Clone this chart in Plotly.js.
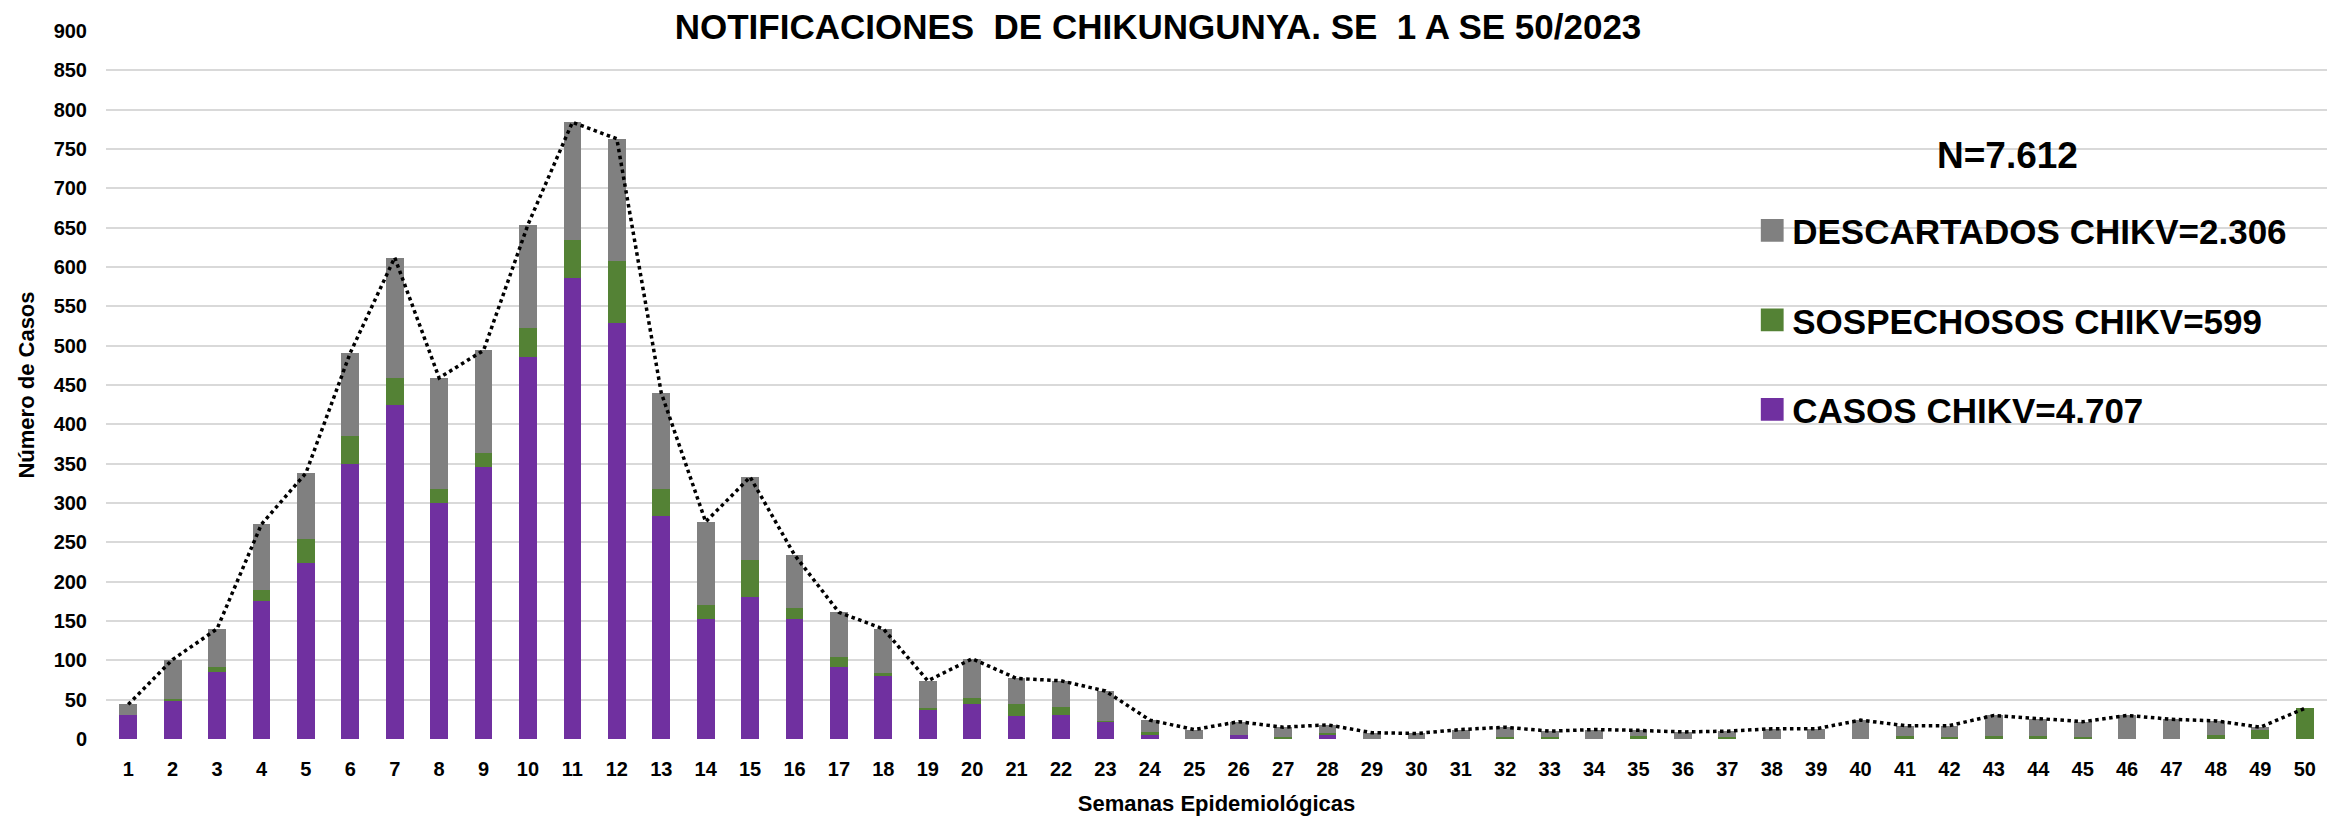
<!DOCTYPE html>
<html>
<head>
<meta charset="utf-8">
<script src="https://cdn.plot.ly/plotly-3.0.1.min.js"></script>
<style>
  html, body { margin: 0; padding: 0; background: #ffffff; }
  #chart { width: 2336px; height: 823px; }
</style>
</head>
<body>
<div id="chart"></div>
<script>
// Semanas epidemiológicas (tick labels)
const semanas = ["1","2","3","4","5","6","7","8","9","10","11","12","13","14","15","16","17","18","19","20","21","22","23","24","25","26","27","28","29","30","31","32","33","34","35","36","37","38","39","40","41","42","43","44","45","46","47","48","49","50"];

// Casos CHIKV (morado)
const casos = [31,48,85,175,224,350,424,300,346,485,586,529,283,153,180,153,92,80,37,44,29,30,21,5,0,5,0,5,0,0,0,0,0,0,0,0,0,0,0,0,0,0,0,0,0,0,0,0,0,0];

// Sospechosos CHIKV (verde)
const sospechosos = [0,3,7,15,30,35,35,18,18,37,48,78,35,17,47,14,12,4,2,8,15,11,2,4,0,0,2,3,0,0,0,3,2,0,4,0,2,0,0,0,4,2,4,4,2,0,0,5,12,39];

// Descartados CHIKV (gris)
const descartados = [13,50,48,83,84,106,153,141,130,132,150,156,122,106,106,67,57,56,35,50,33,33,38,15,12,17,13,10,8,7,12,12,8,12,7,9,8,13,13,24,13,15,26,22,20,30,25,18,3,0];

// Legend / summary texts
const nombreCasos = "CASOS CHIKV=4.707";
const nombreSospechosos = "SOSPECHOSOS CHIKV=599";
const nombreDescartados = "DESCARTADOS CHIKV=2.306";
const textoN = "N=7.612";
const titulo = "NOTIFICACIONES\u00A0 DE CHIKUNGUNYA. SE\u00A0 1 A SE 50/2023";

const totales = semanas.map((_, i) => casos[i] + sospechosos[i] + descartados[i]);

const FONT = '"Liberation Sans", Arial, sans-serif';

const traces = [
  { type: 'bar', x: semanas, y: casos, name: nombreCasos, legendgroup: 'c', legendrank: 3,
    marker: { color: '#7030A0' } },
  { type: 'bar', x: semanas, y: sospechosos, name: nombreSospechosos, legendgroup: 's', legendrank: 2,
    marker: { color: '#548235' } },
  { type: 'bar', x: semanas, y: descartados, name: nombreDescartados, legendgroup: 'd', legendrank: 1,
    marker: { color: '#808080' } },
  { type: 'scatter', mode: 'lines', x: semanas, y: totales, name: 'Total', showlegend: false,
    line: { color: '#000000', width: 3.5, dash: 'dot' } }
];

const layout = {
  width: 2336, height: 823,
  margin: { l: 106, r: 9, t: 31, b: 84 },
  paper_bgcolor: '#ffffff', plot_bgcolor: '#ffffff',
  font: { family: FONT, color: '#000000' },
  barmode: 'stack', bargap: 0.6,
  showlegend: true,
  title: {
    text: titulo,
    font: { family: FONT, size: 35, weight: 'bold', color: '#000000' },
    x: 1158 / 2336, xanchor: 'center', xref: 'container',
    y: 1 - 27 / 823, yanchor: 'middle', yref: 'container'
  },
  xaxis: {
    type: 'category', showgrid: false, zeroline: false, showline: false, ticks: '',
    tickfont: { family: FONT, size: 20, weight: 'bold', color: '#000000' },
    ticklabelstandoff: 16,
    title: { text: 'Semanas Epidemiológicas', standoff: 16,
      font: { family: FONT, size: 22, weight: 'bold', color: '#000000' } }
  },
  yaxis: {
    range: [0, 900], tick0: 0, dtick: 50, showline: false, zeroline: false, ticks: '',
    gridcolor: '#D9D9D9', gridwidth: 2,
    tickfont: { family: FONT, size: 20, weight: 'bold', color: '#000000' },
    ticklabelstandoff: 18,
    title: { text: 'Número de Casos', standoff: 12,
      font: { family: FONT, size: 22, weight: 'bold', color: '#000000' } }
  },
  legend: {
    x: (1752 - 106) / 2220.7, xanchor: 'left',
    y: (739.3 - 201) / 708.6, yanchor: 'top',
    bgcolor: 'rgba(0,0,0,0)', borderwidth: 0,
    traceorder: 'grouped', tracegroupgap: 41,
    font: { family: FONT, size: 35, weight: 'bold', color: '#000000' }
  },
  annotations: [
    { text: textoN, xref: 'paper', yref: 'paper',
      x: (2007 - 106) / 2220.7, y: (739.3 - 155) / 708.6,
      xanchor: 'center', yanchor: 'middle', showarrow: false,
      font: { family: FONT, size: 37, weight: 'bold', color: '#000000' } }
  ]
};

Plotly.newPlot('chart', traces, layout, { displayModeBar: false, staticPlot: true }).then(() => {
  document.querySelectorAll('.legend .legendpoints path').forEach(p => {
    const t = p.getAttribute('transform') || '';
    p.setAttribute('transform', t + ' scale(1.9)');
  });
});
</script>
</body>
</html>
